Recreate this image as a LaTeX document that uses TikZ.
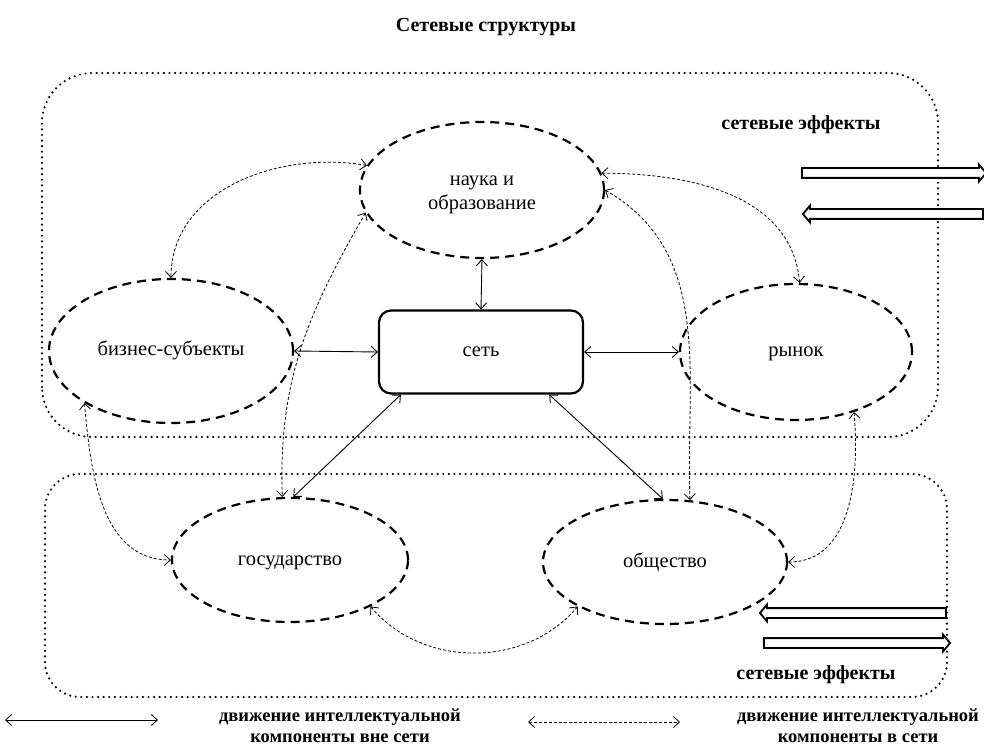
\documentclass[tikz,border=0pt]{standalone}
\usepackage{fontspec}
\setmainfont{Liberation Serif}
\usepackage{tikz}
\usetikzlibrary{arrows.meta, shapes.geometric, shapes.arrows}

\begin{document}
\begin{tikzpicture}[x=1pt, y=1pt,
    rama/.style={line width=2.4pt, dash pattern=on 0pt off 5.6pt, line cap=round},
    uzel/.style={ellipse, draw, line width=2.2pt, dash pattern=on 9pt off 6pt, inner sep=0pt,
        align=center, font=\fontsize{20.5}{25}\selectfont},
    odna/.style={text height=14pt, text depth=4pt},
    vne/.style={{Straight Barb[length=6pt,width=11pt]}-{Straight Barb[length=6pt,width=11pt]}, line width=0.9pt},
    vset/.style={vne, line width=0.8pt, dash pattern=on 3pt off 2pt},
    potok/.style={single arrow, draw, line width=1.8pt, fill=white, inner xsep=0pt, inner ysep=4pt,
        text height=0pt, text depth=0pt, single arrow head extend=3.5pt, single arrow tip angle=100},
    effekt/.style={font=\fontsize{20}{24}\selectfont\bfseries},
    legenda/.style={align=center, font=\fontsize{18.5}{21}\selectfont\bfseries}]
    \useasboundingbox (0,0) rectangle (984,747);

    % Заголовок
    \node[font=\fontsize{20}{24}\selectfont\bfseries] (zag) at (486,720) {Сетевые структуры};

    % Пунктирные области
    \draw[rama, rounded corners=50pt] (42,310) rectangle (938,674);
    \draw[rama, rounded corners=35pt] (45,50) rectangle (947,273);

    % Узлы
    \node[uzel, minimum width=244pt, minimum height=136pt] (nauka) at (482,557) {};
    \node[align=center, font=\fontsize{20.5}{24}\selectfont] (naukatxt) at (482,552) {наука и\\образование};
    \node[uzel, odna, minimum width=244pt, minimum height=144pt] (biznes) at (171,396) {бизнес-субъекты};
    \node[uzel, odna, minimum width=232pt, minimum height=136pt] (rynok) at (796,395) {рынок};
    \node[uzel, odna, minimum width=236pt, minimum height=124pt] (gos) at (290,187) {государство};
    \node[uzel, odna, minimum width=244pt, minimum height=124pt] (obsh) at (665,185) {общество};
    \node[draw, odna, line width=2.2pt, rounded corners=12pt, minimum width=204pt, minimum height=83pt,
        font=\fontsize{20.5}{25}\selectfont] (set) at (481,395) {сеть};

    % Движение вне сети
    \draw[vne] (nauka.south) -- (set.north);
    \draw[vne] (biznes.east) -- (set.west);
    \draw[vne] (set.east) -- (rynok.west);
    \draw[vne] (set.208.6) -- (gos.87);
    \draw[vne] (set.-32) -- (obsh.92);

    % Движение в сети
    \draw[vset] (nauka.168) to[out=170, in=90] (biznes.north);
    \draw[vset] (nauka.191) to[out=240, in=92] (gos.97);
    \draw[vset] (nauka.8) to[out=0, in=95] (rynok.87);
    \draw[vset] (nauka.east) to[out=-30, in=92] (obsh.68);
    \draw[vset] (biznes.211) to[out=-85, in=180] (gos.west);
    \draw[vset] (gos.-30) to[out=-50, in=-130] (obsh.207);
    \draw[vset] (rynok.-46) to[out=-85, in=0] (obsh.east);

    % Сетевые эффекты
    \node[effekt] (eff1) at (801,622) {сетевые эффекты};
    \node[potok, minimum height=184pt] (pot1) at (892,574) {};
    \node[potok, minimum height=180pt, shape border rotate=180] (pot2) at (895,533) {};
    \node[potok, minimum height=186pt, shape border rotate=180] (pot3) at (855,134) {};
    \node[potok, minimum height=186pt] (pot4) at (855,104) {};
    \node[effekt] (eff2) at (816,72) {сетевые эффекты};

    % Легенда
    \coordinate (l1a) at (5,27);
    \coordinate (l1b) at (158,27);
    \coordinate (l2a) at (528,25);
    \coordinate (l2b) at (680,25);
    \draw[vne] (l1a) -- (l1b);
    \draw[vset] (l2a) -- (l2b);
    \node[legenda] (leg1) at (340,21) {движение интеллектуальной\\компоненты вне сети};
    \node[legenda] (leg2) at (858,21) {движение интеллектуальной\\компоненты в сети};
\end{tikzpicture}
\end{document}
